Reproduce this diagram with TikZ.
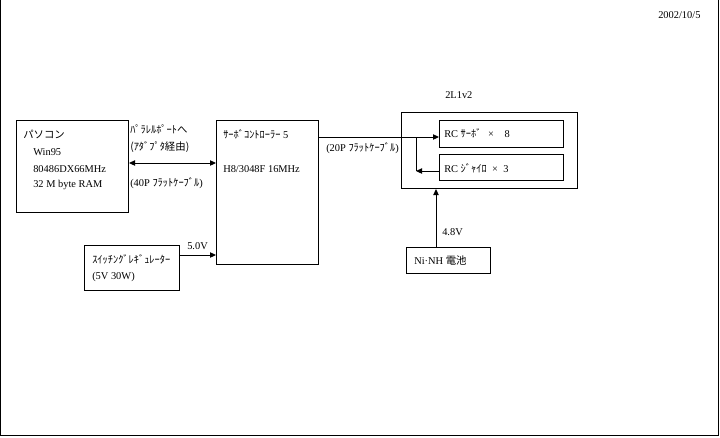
\documentclass[tikz,border=0pt]{standalone}
\usepackage{fontspec}
\setmainfont{Liberation Serif}
\newfontfamily\jp{Noto Sans CJK JP}
\usetikzlibrary{arrows.meta}
\begin{document}
\begin{tikzpicture}[x=0.75pt,y=-0.75pt,
  font=\fontsize{7.8pt}{9pt}\selectfont,
  box/.style={draw,line width=0.75pt,anchor=north west,inner sep=0pt},
  txt/.style={anchor=base west,inner sep=0pt},
  conn/.style={line width=0.75pt},
  arr/.style={conn,-{Triangle[length=4.5pt,width=4pt]}},
  darr/.style={conn,{Triangle[length=4.5pt,width=4pt]}-{Triangle[length=4.5pt,width=4pt]}}]
\useasboundingbox (0,0) rectangle (720,437);
\draw[line width=0.75pt] (0.5,0) -- (0.5,435.5) -- (718.5,435.5) -- (718.5,0);
% boxes
\node[box,minimum width=112*0.75pt,minimum height=92*0.75pt] (pc) at (16,120) {};
\node[box,minimum width=102*0.75pt,minimum height=144*0.75pt] (srv) at (216,120) {};
\node[box,minimum width=95*0.75pt,minimum height=45*0.75pt] (reg) at (84,245) {};
\node[box,minimum width=176*0.75pt,minimum height=76*0.75pt] (l1) at (401,112) {};
\node[box,minimum width=124*0.75pt,minimum height=27*0.75pt] (rcs) at (439,120) {};
\node[box,minimum width=124*0.75pt,minimum height=26*0.75pt] (rcg) at (439,154) {};
\node[box,minimum width=84*0.75pt,minimum height=26*0.75pt] (bat) at (406,247) {};
% texts
\node[txt] (t1) at (23,138) {\jp パソコン};
\node[txt] (t2) at (33,155) {Win95};
\node[txt] (t3) at (33,172) {80486DX66MHz};
\node[txt] (t4) at (33,187) {32 M byte RAM};
\node[txt] (t5) at (130,133) {\jp ﾊﾟﾗﾚﾙﾎﾟｰﾄへ};
\node[txt] (t6) at (130,150) {\jp (ｱﾀﾞﾌﾟﾀ経由)};
\node[txt] (t7) at (130,186) {(40P {\jp ﾌﾗｯﾄｹｰﾌﾞﾙ})};
\node[txt] (t8) at (223,138) {{\jp ｻｰﾎﾞｺﾝﾄﾛｰﾗｰ} 5};
\node[txt] (t9) at (223,172) {H8/3048F 16MHz};
\node[txt] (t10) at (326,151) {(20P {\jp ﾌﾗｯﾄｹｰﾌﾞﾙ})};
\node[txt] (t11) at (92,263) {\jp ｽｲｯﾁﾝｸﾞﾚｷﾞｭﾚｰﾀｰ};
\node[txt] (t12) at (92,279) {(5V 30W)};
\node[txt] (t13) at (187,249) {5.0V};
\node[txt] (t14) at (445,98) {2L1v2};
\node[txt] (t15) at (444,137) {RC {\jp ｻｰﾎﾞ}\hspace{5pt}×\hspace{8pt}8};
\node[txt] (t16) at (444,172) {RC {\jp ｼﾞｬｲﾛ}\hspace{4pt}×\hspace{4pt}3};
\node[txt] (t17) at (442,235) {4.8V};
\node[txt] (t18) at (414,264) {Ni·NH {\jp 電池}};
\node[txt] (t19) at (658,18) {2002/10/5};
% connectors
\coordinate (j1) at (416,137);
\coordinate (j2) at (416,171);
\draw[darr] (pc.east |- 0,163) -- (srv.west |- 0,163);
\draw[arr] (reg.east |- 0,255) -- (srv.west |- 0,255);
\draw[arr] (srv.east |- 0,137) -- (rcs.west |- 0,137);
\draw[conn] (j1) -- (j2);
\draw[arr] (rcg.west |- j2) -- (j2);
\draw[arr] (bat.north -| 436,0) -- (l1.south -| 436,0);
\end{tikzpicture}
\end{document}
